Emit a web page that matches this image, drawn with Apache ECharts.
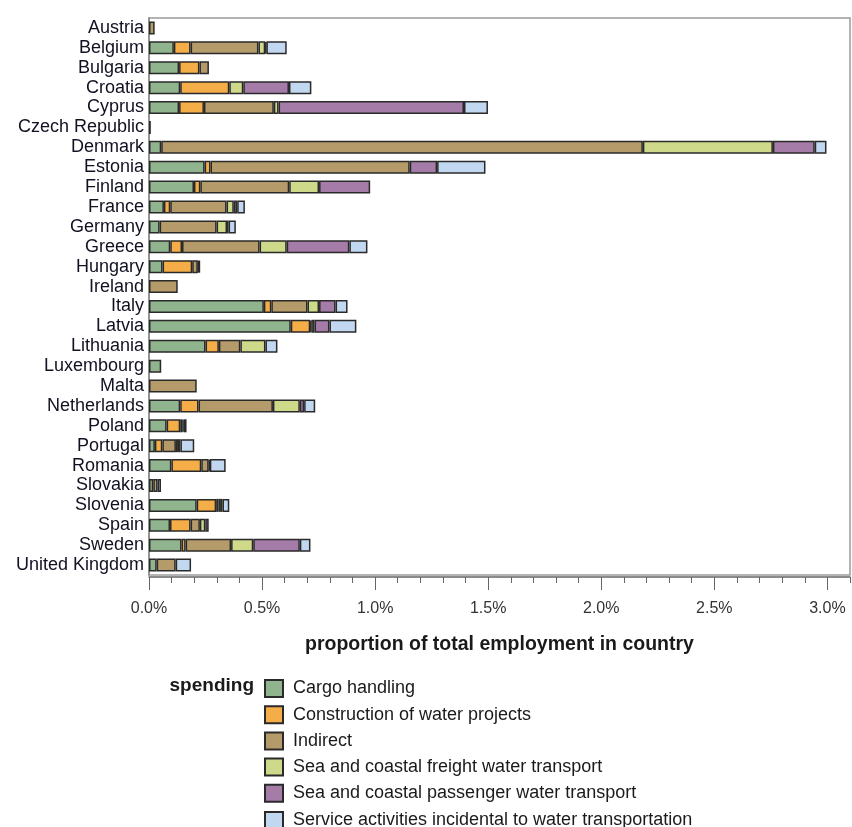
<!DOCTYPE html>
<html>
<head>
<meta charset="utf-8">
<script src="https://cdn.jsdelivr.net/npm/echarts@6/dist/echarts.min.js"></script>
<style>html,body{margin:0;padding:0;background:#fff}#c{width:852px;height:827px}</style>
</head>
<body>
<div id="c"></div>
<script>
const countries = ["Austria","Belgium","Bulgaria","Croatia","Cyprus","Czech Republic","Denmark","Estonia","Finland","France","Germany","Greece","Hungary","Ireland","Italy","Latvia","Lithuania","Luxembourg","Malta","Netherlands","Poland","Portugal","Romania","Slovakia","Slovenia","Spain","Sweden","United Kingdom"];
const seriesNames = ["Cargo handling","Construction of water projects","Indirect","Sea and coastal freight water transport","Sea and coastal passenger water transport","Service activities incidental to water transportation"];
// values in % of total employment
const cargo        = [null,0.110,0.133,0.138,0.133,0.008,0.054,0.246,0.199,0.066,0.047,0.094,0.060,null,0.508,0.627,0.250,0.054,null,0.138,0.078,0.026,0.099,0.019,0.211,0.093,0.144,0.034];
const construction = [null,0.074,0.090,0.217,0.110,null,null,0.026,0.028,0.028,null,0.052,0.131,null,0.033,0.086,0.059,null,null,0.081,0.060,0.033,0.132,null,0.086,0.091,0.018,null];
const indirect     = [0.025,0.300,0.042,null,0.309,null,2.130,0.881,0.393,0.249,0.252,0.343,0.025,0.127,0.160,0.005,0.095,null,0.211,0.329,0.010,0.060,0.033,0.019,0.010,0.041,0.201,0.084];
const freight      = [null,0.030,null,0.062,0.021,null,0.575,null,0.132,0.032,0.046,0.120,0.005,null,0.051,0.014,0.111,null,null,0.119,0.005,0.009,0.005,null,0.011,0.024,0.098,null];
const passenger    = [null,0.005,null,0.202,0.820,null,0.185,0.121,0.226,0.015,0.007,0.277,null,null,0.073,0.066,null,null,null,0.019,null,0.011,null,null,0.007,0.015,0.206,null];
const service      = [null,0.090,null,0.099,0.106,null,0.052,0.214,null,0.034,0.032,0.080,0.004,null,0.053,0.119,0.053,null,null,0.049,0.013,0.061,0.070,0.015,0.030,null,0.047,0.068];
const majorTicks = [0,0.5,1.0,1.5,2.0,2.5,3.0];
const colors = ["#8fb48e","#f4ad47","#b49b69","#cfd98a","#a57ba7","#c1d8f0"];
const allValues = [cargo,construction,indirect,freight,passenger,service];

const font = "'Liberation Sans', Arial, sans-serif";
const legendText = {fontSize:18,color:'#1a1a1a',fontFamily:font,padding:[0,0,0,5]};
const chart = echarts.init(document.getElementById('c'));
chart.setOption({
  animation:false,
  textStyle:{fontFamily:font},
  grid:{left:149,right:2,top:18,height:557,show:true,borderColor:'#9a9a9a',borderWidth:1.5,backgroundColor:'#fff'},
  legend:[{
    orient:'vertical',left:259,top:674,itemWidth:18,itemHeight:17,itemGap:7.2,icon:'rect',
    textStyle:legendText,data:seriesNames.slice(0,5)
  },{
    orient:'vertical',left:259,top:806,itemWidth:18,itemHeight:17,itemGap:5,icon:'rect',
    textStyle:legendText,data:seriesNames.slice(5)
  }],
  graphic:[{type:'text',right:852-254,top:676,style:{text:'spending',font:'bold 19px '+font,fill:'#1a1a1a',textAlign:'right'}}],
  xAxis:[{
    type:'value',min:0,max:3.1,interval:0.1,offset:2,
    axisLine:{show:true,lineStyle:{color:'#666',width:1.5}},
    axisTick:{show:true,length:6,lineStyle:{color:'#666'}},
    axisLabel:{show:false},
    splitLine:{show:false},
    name:'proportion of total employment in country',nameLocation:'middle',nameGap:58,
    nameTextStyle:{fontSize:19.5,fontWeight:'bold',color:'#1a1a1a',fontFamily:font}
  },{
    type:'value',min:0,max:3.1,position:'bottom',offset:2,
    axisLine:{show:false},
    axisTick:{show:true,length:13,customValues:majorTicks,lineStyle:{color:'#666'}},
    axisLabel:{show:true,customValues:majorTicks,margin:24,fontSize:16,color:'#333',fontFamily:font,
      formatter:v=>v.toFixed(1)+'%'},
    splitLine:{show:false}
  }],
  yAxis:{
    type:'category',data:countries,inverse:true,
    axisLine:{show:true,lineStyle:{color:'#888',width:1.5}},
    axisTick:{show:false},
    axisLabel:{interval:0,fontSize:18,color:'#111122',margin:5,fontFamily:font}
  },
  series: seriesNames.map((n,i)=>({
    name:n,type:'bar',stack:'total',xAxisIndex:0,barWidth:13,
    data:allValues[i],
    itemStyle:{color:colors[i],borderColor:'#2a2a2a',borderWidth:1.5}
  }))
});
</script>
</body>
</html>
